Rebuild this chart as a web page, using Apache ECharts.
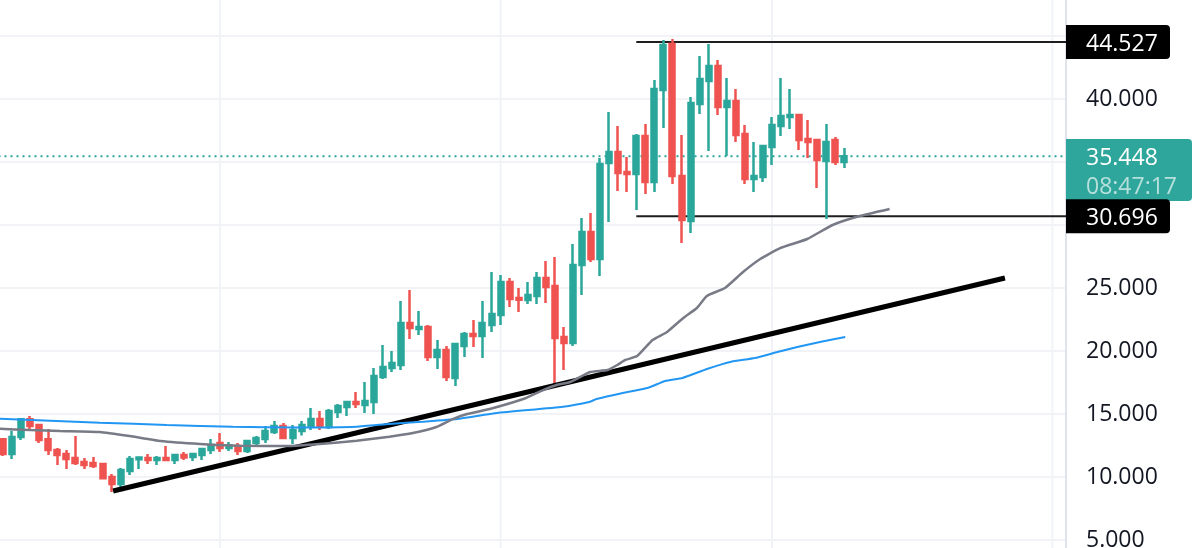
<!DOCTYPE html>
<html><head><meta charset="utf-8">
<script src="https://cdn.jsdelivr.net/npm/echarts@6/dist/echarts.min.js"></script>
<style>html,body{margin:0;padding:0;background:#fff;overflow:hidden}#c{width:1200px;height:548px}</style>
</head><body><div id="c"></div>
<script>
const opens=[12.99,11.83,13.18,14.58,14.13,12.99,12.14,11.83,11.51,11.19,11.11,11.03,10.0,9.45,10.48,11.40,11.51,11.35,11.51,11.35,11.75,11.59,11.75,12.14,12.70,12.30,12.46,12.07,12.70,13.02,13.57,14.05,13.10,13.65,14.05,14.60,13.97,15.16,15.56,15.95,15.71,15.95,17.94,18.65,18.89,22.22,21.74,21.90,19.52,20.08,17.86,20.40,21.35,21.19,22.06,22.86,25.48,24.21,24.05,24.36,25.79,25.16,21.11,20.63,26.83,29.44,27.30,34.92,35.79,34.21,34.05,37.06,33.41,40.71,44.37,33.89,30.32,39.60,41.43,42.62,39.37,39.84,37.22,33.65,33.81,36.19,37.86,38.57,38.73,36.83,36.75,35.08,36.75,35.0];
const closes=[11.83,13.18,14.58,14.05,12.94,12.14,11.75,11.43,11.11,10.95,10.87,9.90,9.45,10.56,11.43,11.54,11.35,11.51,11.35,11.75,11.54,11.83,12.22,12.54,12.30,12.51,12.07,12.86,13.10,13.65,14.05,13.10,13.73,14.13,14.60,14.05,15.24,15.63,15.95,15.79,16.03,18.02,18.73,19.05,22.22,21.82,21.90,19.52,20.08,17.94,20.56,21.35,21.19,22.22,22.94,25.48,24.13,24.07,24.44,25.79,25.08,21.03,20.63,26.82,29.44,27.30,34.84,35.79,34.13,34.05,37.06,33.41,40.79,44.29,33.89,30.40,39.68,41.59,42.62,39.37,39.84,37.14,33.65,33.89,36.27,37.94,38.65,38.73,36.75,36.59,35.16,36.59,35.0,35.448];
const lows=[11.67,11.43,12.94,13.81,12.70,11.75,10.95,10.64,10.95,10.64,10.72,9.84,8.81,9.13,10.16,10.64,11.03,10.95,11.27,11.03,11.35,11.27,11.35,11.83,11.99,12.07,11.75,11.91,12.54,12.70,13.41,13.02,12.62,13.30,13.73,13.73,13.81,14.68,14.84,15.48,15.08,15.0,17.78,18.33,18.49,20.95,21.27,19.21,18.57,17.62,17.22,19.52,20.32,19.44,21.51,22.06,23.49,23.10,23.73,23.73,23.81,17.30,18.49,20.40,24.44,27.06,25.95,30.24,32.70,32.62,31.19,32.46,32.62,37.70,33.25,28.57,29.37,38.81,35.87,38.73,35.48,36.59,33.25,32.62,33.41,34.76,37.06,37.62,35.95,35.32,32.94,30.48,34.76,34.52];
const highs=[13.0,13.68,14.60,14.84,14.21,13.81,12.30,12.14,13.26,11.51,11.59,11.11,10.24,10.72,11.67,11.59,11.83,11.67,12.46,11.83,11.99,11.91,12.30,13.02,13.49,12.78,12.70,12.94,13.26,14.05,14.45,14.29,14.13,14.44,15.48,15.24,15.40,15.79,16.03,16.75,17.54,18.65,20.48,20.0,23.97,24.84,23.17,22.06,20.87,20.40,20.63,21.51,22.46,23.97,26.27,26.03,25.79,25.0,25.48,26.27,27.14,27.46,21.90,28.49,30.56,30.95,35.32,38.97,37.86,35.40,37.22,38.02,41.51,44.68,44.76,37.14,40.16,43.41,44.37,43.10,41.67,40.79,37.94,36.59,36.27,38.57,41.67,40.79,38.81,38.33,36.83,38.02,36.98,36.11];
const slowAvgIndex=[-0.5,3,6.3,10.7,14,17.4,21.8,26.2,31.7,35,39.1,42.7,45.3,47.9,49.7,51.3,53.8,57.5,59.7,61.2,62.7,64.9,66.8,67.9,68.8,70.1,71.8,73.4,75.2,76.7,77.8,79.8,81.8,83.7,85.9,88.9,91.7,94.7,98];
const slowAvg=[13.83,13.73,13.65,13.57,13.25,12.86,12.62,12.48,12.46,12.62,12.88,13.2,13.49,13.97,14.6,15,15.4,16.19,16.9,17.3,17.54,18.33,18.49,18.89,19.29,19.6,20.87,21.51,22.62,23.41,24.37,25,26.27,27.3,28.17,28.89,30,30.71,31.27];
const longAvgIndex=[-0.5,10.7,18.1,25.4,32.8,39.1,42.7,46.4,50.2,54.6,61.9,64.9,65.6,68.5,71.2,73.2,75.1,77.8,80.4,83.1,85.6,87.8,90.3,93.1];
const longAvg=[14.63,14.31,14.13,13.99,13.93,13.99,14.21,14.39,14.6,15.08,15.58,15.98,16.19,16.67,17.06,17.62,17.86,18.57,19.13,19.44,19.92,20.32,20.71,21.11];
const trendIndex=[12.17,110.75];
const trendPrice=[8.89,25.79];
const rangeStartIndex=70;
const lastIndex=117.5;
const rangeHigh=44.527, rangeLow=30.696, lastPrice=35.448;
const countdown="08:47:17";
const monthTicks=[24,55,85,116];
const categories=Array.from({length:118},(_,i)=>String(i));

const FONT='"Open Sans"', UP='#2aa69a', DOWN='#ef5350', GRID='#f1f3f6';
const chart=echarts.init(document.getElementById('c'),null,{renderer:'canvas'});
const zip=(a,b)=>a.map((v,i)=>[v,b[i]]);
const overlay=(data,color,width,z,extra)=>Object.assign({type:'line',xAxisIndex:1,yAxisIndex:0,data,symbol:'none',silent:true,z,
  lineStyle:{color,width},animation:false},extra||{});
chart.setOption({
  animation:false,
  grid:{left:-1.5,top:-27,width:1067.5,height:630,outerBoundsMode:'none',containLabel:false},
  xAxis:[
    {type:'category',data:categories,show:false},
    {type:'value',min:-0.5,max:lastIndex,show:false}
  ],
  yAxis:{type:'value',position:'right',min:0,max:50,interval:5,scale:false,
    axisLine:{show:true,onZero:false,lineStyle:{color:'#e0e3eb',width:2}},
    axisTick:{show:false},
    axisLabel:{show:true,margin:20,fontFamily:FONT,fontSize:23,color:'#131722',padding:[6,0,0,0],formatter:v=>v.toFixed(3)},
    splitLine:{show:true,lineStyle:{color:GRID,width:2}}},
  series:[
    ...monthTicks.map(t=>overlay([[t,0],[t,50]],GRID,2,1)),
    overlay([[-0.5,lastPrice],[lastIndex,lastPrice]],UP,2,2,{lineStyle:{color:UP,width:2,type:[2,4]}}),
    overlay([[rangeStartIndex,rangeHigh],[lastIndex,rangeHigh]],'#1e1e1e',2,2),
    overlay([[rangeStartIndex,rangeLow],[lastIndex,rangeLow]],'#1e1e1e',2,2),
    {type:'candlestick',xAxisIndex:0,yAxisIndex:0,z:3,barWidth:5.5,silent:true,animation:false,
      data:opens.map((o,i)=>[o,closes[i],lows[i],highs[i]]),
      itemStyle:{color:UP,color0:DOWN,borderColor:UP,borderColor0:DOWN,borderWidth:2.5}},
    overlay(zip(trendIndex,trendPrice),'#000',5,4),
    overlay(zip(longAvgIndex,longAvg),'#2196f3',2,5,{smooth:0.15}),
    overlay(zip(slowAvgIndex,slowAvg),'#787b86',2.5,5,{smooth:0.15})
  ]
});
const py=v=>chart.convertToPixel({yAxisIndex:0},v);
const tx=1086, ax=1066;
const tag=(v,fill,w,h,cy,z)=>({type:'rect',z:z||100,shape:{x:ax,y:cy-h/2,width:w,height:h,r:[0,4,4,0]},style:{fill}});
const label=(t,cy,fill)=>({type:'text',z:102,style:{x:tx,y:cy+2,text:t,fill,font:'23px '+FONT,verticalAlign:'middle'}});
chart.setOption({graphic:{elements:[
  tag(lastPrice,'#2ea69b',126,62,py(lastPrice)+13.6),
  tag(rangeHigh,'#000',104,34,py(rangeHigh),101),
  tag(rangeLow,'#000',104,34,py(rangeLow),101),
  label(rangeHigh.toFixed(3),py(rangeHigh),'#fff'),
  label(lastPrice.toFixed(3),py(lastPrice),'#fff'),
  label(countdown,py(lastPrice)+29,'rgba(255,255,255,0.65)'),
  label(rangeLow.toFixed(3),py(rangeLow),'#fff')
]}});
</script></body></html>
